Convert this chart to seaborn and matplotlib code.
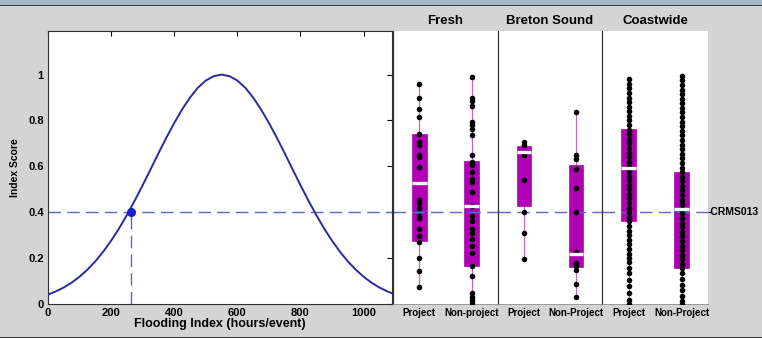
import numpy as np
import pandas as pd
import matplotlib
matplotlib.use('Agg')
import matplotlib.pyplot as plt
from matplotlib.patches import Rectangle
import seaborn as sns

# ── Colours ───────────────────────────────────────────────────────
BG      = '#d4d4d4'
CURVE   = '#2a2aa0'
DASH    = '#6464c8'
DOT     = '#1a1ae0'
MAG     = '#b000b4'
WHISK   = '#c868c8'
SPINE   = '#303030'

# ── Data: flooding index suitability curve ─────────────────────────
flood_x = [0, 25, 50, 75, 100, 125, 150, 175, 200, 225, 250, 275, 300, 325,
           350, 375, 400, 425, 450, 475, 500, 525, 550, 575, 600, 625, 650,
           675, 700, 725, 750, 775, 800, 825, 850, 875, 900, 925, 950, 975,
           1000, 1025, 1050, 1075, 1100]
flood_score = [0.041, 0.055, 0.072, 0.093, 0.119, 0.150, 0.186, 0.228, 0.276,
               0.329, 0.388, 0.451, 0.518, 0.587, 0.657, 0.725, 0.789, 0.848,
               0.900, 0.943, 0.974, 0.993, 1.000, 0.993, 0.974, 0.943, 0.900,
               0.848, 0.789, 0.725, 0.657, 0.587, 0.518, 0.451, 0.388, 0.329,
               0.276, 0.228, 0.186, 0.150, 0.119, 0.093, 0.072, 0.055, 0.041]
site_x = 262
site_score = 0.40
site_name = '-CRMS013'

# ── Data: index scores by region ───────────────────────────────────
panels = ['Fresh', 'Breton Sound', 'Coastwide']
groups = [['Project', 'Non-project'],
          ['Project', 'Non-Project'],
          ['Project', 'Non-Project']]

fresh_proj = [0.959, 0.897, 0.849, 0.814, 0.743, 0.704, 0.692, 0.648, 0.639,
              0.597, 0.452, 0.440, 0.419, 0.384, 0.374, 0.326, 0.296, 0.270,
              0.201, 0.142, 0.073]
fresh_non = [0.988, 0.900, 0.883, 0.865, 0.792, 0.780, 0.762, 0.736, 0.648,
             0.619, 0.604, 0.575, 0.545, 0.531, 0.487, 0.428, 0.384, 0.362,
             0.326, 0.311, 0.282, 0.252, 0.223, 0.164, 0.120, 0.047, 0.032,
             0.018, 0.003]
breton_proj = [0.707, 0.692, 0.651, 0.541, 0.399, 0.311, 0.194]
breton_non = [0.839, 0.648, 0.633, 0.589, 0.507, 0.399, 0.226, 0.179, 0.164,
              0.147, 0.088, 0.032]
coast_proj = [0.98, 0.96, 0.94, 0.92, 0.90, 0.88, 0.86, 0.84, 0.82, 0.80,
              0.78, 0.76, 0.74, 0.72, 0.70, 0.68, 0.66, 0.64, 0.62, 0.60,
              0.58, 0.56, 0.54, 0.52, 0.50, 0.48, 0.46, 0.44, 0.42, 0.40,
              0.38, 0.36, 0.34, 0.32, 0.30, 0.28, 0.26, 0.24, 0.22, 0.20,
              0.185, 0.157, 0.135, 0.106, 0.077, 0.048, 0.019, 0.0]
coast_non = [0.995, 0.975, 0.955, 0.935, 0.915, 0.895, 0.875, 0.855, 0.835,
             0.815, 0.795, 0.775, 0.755, 0.735, 0.715, 0.695, 0.675, 0.655,
             0.635, 0.615, 0.595, 0.575, 0.555, 0.535, 0.515, 0.495, 0.475,
             0.455, 0.435, 0.415, 0.395, 0.375, 0.355, 0.335, 0.315, 0.295,
             0.275, 0.255, 0.235, 0.215, 0.195, 0.175, 0.155, 0.135, 0.11,
             0.085, 0.06, 0.035, 0.015, 0.0]
points = [[fresh_proj, fresh_non], [breton_proj, breton_non], [coast_proj, coast_non]]

# box summaries: (low whisker, q1, median, q3, high whisker)
box_stats = [[(0.073, 0.274, 0.526, 0.742, 0.959), (0.003, 0.164, 0.428, 0.623, 0.988)],
             [(0.194, 0.428, 0.663, 0.688, 0.707), (0.032, 0.161, 0.217, 0.607, 0.839)],
             [(0.0, 0.362, 0.592, 0.765, 0.985), (0.0, 0.157, 0.413, 0.575, 0.997)]]

# ── Figure ─────────────────────────────────────────────────────────
sns.set_theme(style='white')
plt.rcParams['font.family'] = ['Liberation Sans', 'DejaVu Sans']
plt.rcParams['font.weight'] = 'bold'
plt.rcParams['axes.labelcolor'] = 'black'
plt.rcParams['text.color'] = 'black'

fig = plt.figure(figsize=(7.62, 3.38), dpi=100, facecolor=BG)
fig.patches.append(Rectangle((0, 1 - 5 / 338), 1, 5 / 338, transform=fig.transFigure,
                             facecolor='#a3b8cc', edgecolor='none', zorder=0))
fig.patches.append(Rectangle((0, 1 - 6 / 338), 1, 1.2 / 338, transform=fig.transFigure,
                             facecolor='#3a3a3a', edgecolor='none', zorder=0))
fig.patches.append(Rectangle((0, 0), 1, 1.2 / 338, transform=fig.transFigure,
                             facecolor='#3a3a3a', edgecolor='none', zorder=0))

YMAX = 1.19
bottom, height = 34 / 338, 273 / 338

# left: suitability curve
ax = fig.add_axes([48 / 762, bottom, 344 / 762, height])
ax.set_facecolor('white')
sns.lineplot(x=flood_x, y=flood_score, ax=ax, color=CURVE, lw=1.4, zorder=3)
ax.plot([0, 1100], [site_score, site_score], color=DASH, lw=1, dashes=(9, 4.5), zorder=2)
ax.plot([site_x, site_x], [0, site_score], color=DASH, lw=1, dashes=(9, 4.5), zorder=2)
ax.plot(site_x, site_score, 'o', color=DOT, ms=5.5, zorder=4)
ax.set_xlim(0, 1090)
ax.set_ylim(0, YMAX)
ax.set_xticks([0, 200, 400, 600, 800, 1000])
ax.set_yticks([0, 0.2, 0.4, 0.6, 0.8, 1.0])
ax.set_yticklabels(['0', '0.2', '0.4', '0.6', '0.8', '1'])
ax.tick_params(direction='in', top=True, right=True, length=3.5, width=0.8,
               labelsize=8, pad=3, colors='black')
ax.set_xlabel('Flooding Index (hours/event)', fontsize=9, fontweight='bold',
              labelpad=0, color='black')
ax.set_ylabel('Index Score', fontsize=7.5, fontweight='bold', labelpad=6, color='black')
for s in ax.spines.values():
    s.set_color(SPINE)
    s.set_linewidth(0.8)

# right: box plots per region
lefts = [393 / 762, 498 / 762, 602 / 762]
widths = [105 / 762, 104 / 762, 106 / 762]
for i, name in enumerate(panels):
    bx = fig.add_axes([lefts[i], bottom, widths[i], height])
    bx.set_facecolor('white')
    df = pd.DataFrame({
        'group': [groups[i][0]] * len(points[i][0]) + [groups[i][1]] * len(points[i][1]),
        'value': points[i][0] + points[i][1],
    })
    stats = [dict(whislo=s[0], q1=s[1], med=s[2], q3=s[3], whishi=s[4], label=g)
             for s, g in zip(box_stats[i], groups[i])]
    res = bx.bxp(stats, positions=[0, 1], widths=0.28, patch_artist=True,
                 showcaps=False, showfliers=False,
                 boxprops=dict(facecolor=MAG, edgecolor=MAG, linewidth=0.5),
                 whiskerprops=dict(color=WHISK, linewidth=0.9),
                 medianprops=dict(color='white', linewidth=2.4))
    for m in res['medians']:
        m.set_zorder(6)
    for w in res['whiskers']:
        w.set_zorder(1)
    for b in res['boxes']:
        b.set_zorder(2)
    bx.axhline(site_score, color=DASH, lw=1, dashes=(9, 4.5), zorder=2.5)
    sns.stripplot(data=df, x='group', y='value', order=groups[i], jitter=False,
                  color='black', size=4.0, ax=bx, zorder=4)
    bx.set_xlim(-0.5, 1.5)
    bx.set_ylim(0, YMAX)
    bx.set_xlabel('')
    bx.set_ylabel('')
    bx.set_xticks([0, 1])
    bx.set_xticklabels(groups[i], fontsize=7, fontweight='bold')
    bx.set_yticks([0, 0.2, 0.4, 0.6, 0.8, 1.0])
    bx.tick_params(axis='x', direction='in', length=2, width=0.6, pad=3, colors='black')
    bx.tick_params(axis='y', direction='in', length=3 if i == 0 else 0, width=0.6,
                   labelleft=False)
    bx.set_title(name, fontsize=9.5, fontweight='bold', pad=5, color='black')
    bx.spines['top'].set_visible(False)
    bx.spines['right'].set_visible(False)
    bx.spines['left'].set_color(SPINE)
    bx.spines['left'].set_linewidth(0.9)
    bx.spines['bottom'].set_color('#909090')
    bx.spines['bottom'].set_linewidth(0.6)
    if i == len(panels) - 1:
        bx.text(1.0, site_score, site_name, transform=bx.get_yaxis_transform(),
                ha='left', va='center', fontsize=7.5, fontweight='bold', color='black')

fig.savefig('out.png', dpi=100, facecolor=BG)
